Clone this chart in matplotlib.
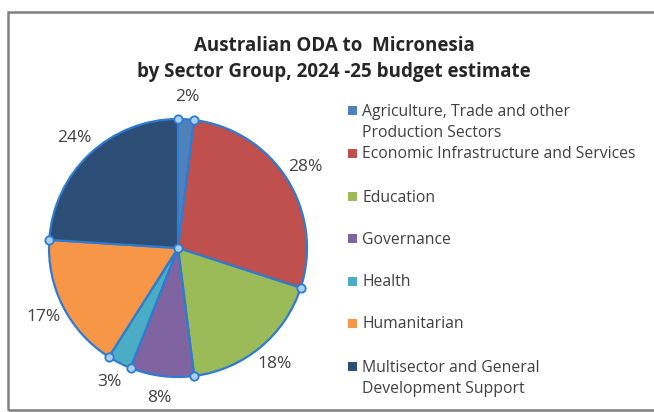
import numpy as np
import matplotlib
matplotlib.use("Agg")
import matplotlib.pyplot as plt
from matplotlib.patches import Rectangle

plt.rcParams['font.family'] = ['Open Sans', 'DejaVu Sans']

categories = [
    "Agriculture, Trade and other\nProduction Sectors",
    "Economic Infrastructure and Services",
    "Education",
    "Governance",
    "Health",
    "Humanitarian",
    "Multisector and General\nDevelopment Support",
]
shares = [2, 28, 18, 8, 3, 17, 24]
colors = ["#4F81BD", "#C0504D", "#9BBB59", "#8064A2", "#4BACC6", "#F79646", "#2C4D75"]
title = "Australian ODA to  Micronesia\nby Sector Group, 2024 -25 budget estimate"

W, H = 654, 412
fig = plt.figure(figsize=(W / 100, H / 100), dpi=100)
fig.patch.set_facecolor("white")

# outer border
fig.add_artist(Rectangle((8 / W, 2 / H), 1.2, (H - 14) / H, transform=fig.transFigure,
                         fill=False, edgecolor="#7f7f7f", linewidth=1.8))

cx, cy, r = 178, H - 248, 129
ax = fig.add_axes([(cx - r) / W, (cy - r) / H, 2 * r / W, 2 * r / H])
wedges, texts, autotexts = ax.pie(
    shares, colors=colors, startangle=90, counterclock=False,
    autopct=lambda p: f"{p:.0f}%", pctdistance=1.17, radius=1,
    wedgeprops=dict(edgecolor="#2E7BCF", linewidth=1.6),
    textprops=dict(fontsize=12.5, color="#404040"))
ax.set_xlim(-1, 1)
ax.set_ylim(-1, 1)
ax.set_aspect("equal")

# selection handles at slice boundaries
cum = np.cumsum([0] + shares[:-1])
theta = np.deg2rad(90 - 360 * cum / sum(shares))
ax.plot(np.cos(theta), np.sin(theta), "o", ms=6, mfc="#A9D0F2", mec="#2E7BCF",
        mew=1.3, clip_on=False, zorder=5)
ax.plot([0], [0], "o", ms=6, mfc="#A9D0F2", mec="#2E7BCF", mew=1.3, zorder=5)

fig.text(334 / W, 1 - 59 / H, title, ha="center", va="center", fontsize=13.5,
         fontweight="bold", color="#262626", linespacing=1.45)

# legend
ys = [110, 153, 196, 238, 281, 323, 366]
for lab, col, y in zip(categories, colors, ys):
    fig.add_artist(Rectangle((348 / W, 1 - (y + 5) / H), 9 / W, 9 / H,
                             transform=fig.transFigure, facecolor=col, edgecolor="none"))
    for k, line in enumerate(lab.split("\n")):
        fig.text(362 / W, 1 - (y + 5.5 + 21.5 * k) / H, line, ha="left", va="baseline",
                 fontsize=11.3, color="#404040")

fig.savefig("out.png", dpi=100)
